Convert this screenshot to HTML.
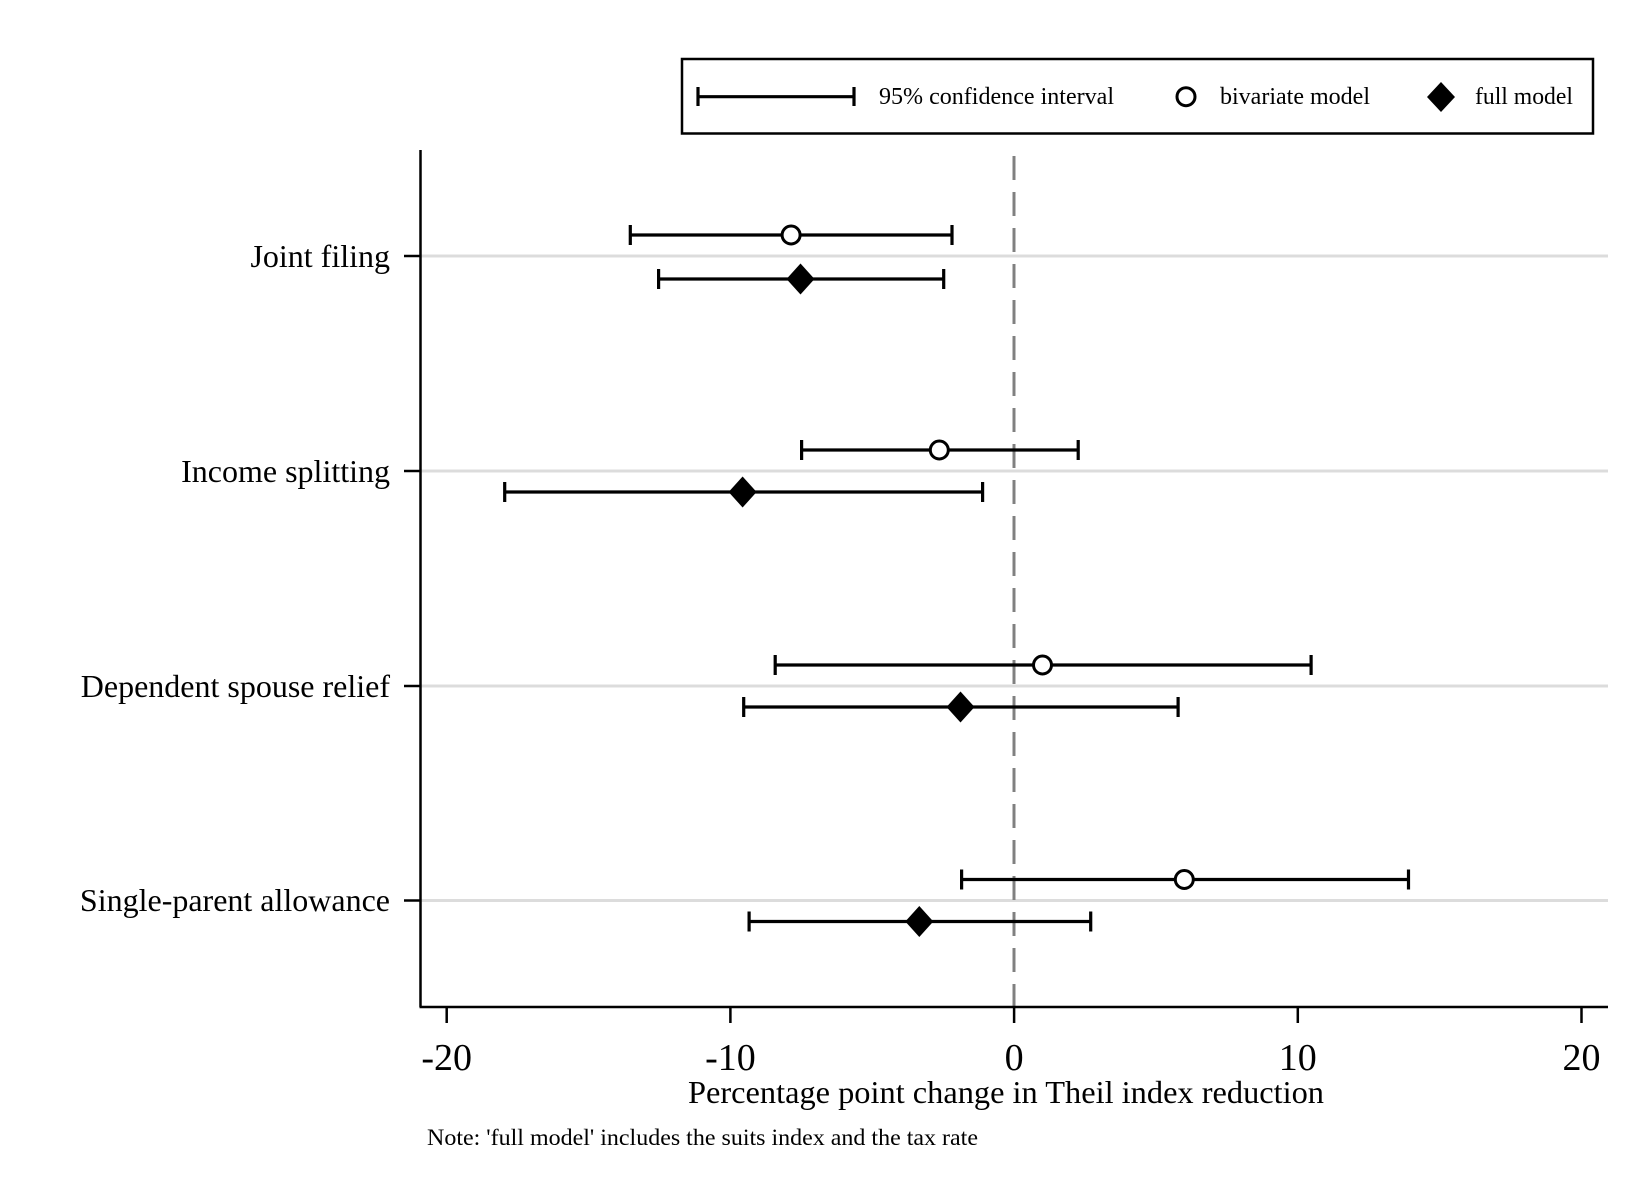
<!DOCTYPE html>
<html><head><meta charset="utf-8"><style>
html,body{margin:0;padding:0;background:#fff;}
svg{display:block;}
text{font-family:"Liberation Serif",serif;fill:#000;}
</style></head><body>
<svg width="1649" height="1199" viewBox="0 0 1649 1199" xmlns="http://www.w3.org/2000/svg">
<rect width="1649" height="1199" fill="#fff"/>
<!-- legend -->
<rect x="682" y="59" width="911" height="74.5" fill="#fff" stroke="#000" stroke-width="2.5"/>
<g stroke="#000" stroke-width="3.2" fill="none">
<line x1="698" y1="96.7" x2="854" y2="96.7"/>
<line x1="698" y1="87" x2="698" y2="106"/>
<line x1="854" y1="87" x2="854" y2="106"/>
</g>
<text x="879" y="104" font-size="24" textLength="235" lengthAdjust="spacingAndGlyphs">95% confidence interval</text>
<circle cx="1186" cy="96.7" r="9" fill="#fff" stroke="#000" stroke-width="3"/>
<text x="1220" y="104" font-size="24" textLength="150" lengthAdjust="spacingAndGlyphs">bivariate model</text>
<polygon points="1441,82 1455,97 1441,112 1427,97" fill="#000"/>
<text x="1475" y="104" font-size="24" textLength="98" lengthAdjust="spacingAndGlyphs">full model</text>

<!-- gridlines -->
<g stroke="#dcdcdc" stroke-width="3">
<line x1="421" y1="256" x2="1608" y2="256"/>
<line x1="421" y1="471" x2="1608" y2="471"/>
<line x1="421" y1="686" x2="1608" y2="686"/>
<line x1="421" y1="900.5" x2="1608" y2="900.5"/>
</g>
<line x1="1014" y1="156" x2="1014" y2="1006" stroke="#808080" stroke-width="3" stroke-dasharray="24 12"/>
<g stroke="#000" stroke-width="2.5" fill="none">
<line x1="420.5" y1="150" x2="420.5" y2="1007"/>
<line x1="419.5" y1="1007" x2="1608" y2="1007"/>
<line x1="404" y1="256" x2="420" y2="256"/>
<line x1="404" y1="471" x2="420" y2="471"/>
<line x1="404" y1="686" x2="420" y2="686"/>
<line x1="404" y1="900.5" x2="420" y2="900.5"/>
<line x1="446.7" y1="1007" x2="446.7" y2="1023"/>
<line x1="730.4" y1="1007" x2="730.4" y2="1023"/>
<line x1="1014.1" y1="1007" x2="1014.1" y2="1023"/>
<line x1="1297.8" y1="1007" x2="1297.8" y2="1023"/>
<line x1="1581.5" y1="1007" x2="1581.5" y2="1023"/>
</g>
<g font-size="32" text-anchor="end">
<text x="390" y="267">Joint filing</text>
<text x="390" y="482">Income splitting</text>
<text x="390" y="697">Dependent spouse relief</text>
<text x="390" y="911">Single-parent allowance</text>
</g>
<g font-size="38" text-anchor="middle">
<text x="446.7" y="1070">-20</text>
<text x="730.4" y="1070">-10</text>
<text x="1014.1" y="1070">0</text>
<text x="1297.8" y="1070">10</text>
<text x="1581.5" y="1070">20</text>
</g>
<text x="1006" y="1103" font-size="32" text-anchor="middle" textLength="636" lengthAdjust="spacingAndGlyphs">Percentage point change in Theil index reduction</text>
<text x="427" y="1145" font-size="23" textLength="551" lengthAdjust="spacingAndGlyphs">Note: 'full model' includes the suits index and the tax rate</text>

<g stroke="#000" stroke-width="3.2" fill="none">
<path d="M630.3 235H952M630.3 225V245M952 225V245"/>
<path d="M658.6 279H943.7M658.6 269V289M943.7 269V289"/>
<path d="M801.6 450H1078.2M801.6 440V460M1078.2 440V460"/>
<path d="M504.7 492H982.6M504.7 482V502M982.6 482V502"/>
<path d="M775.2 665H1311.1M775.2 655V675M1311.1 655V675"/>
<path d="M743.7 707H1178.1M743.7 697V717M1178.1 697V717"/>
<path d="M961.6 879.5H1408.5M961.6 869.5V889.5M1408.5 869.5V889.5"/>
<path d="M749.1 921.5H1090.7M749.1 911.5V931.5M1090.7 911.5V931.5"/>
</g>
<g fill="#fff" stroke="#000" stroke-width="3">
<circle cx="791.1" cy="235" r="9"/>
<circle cx="939.3" cy="450" r="9"/>
<circle cx="1042.5" cy="665" r="9"/>
<circle cx="1184.3" cy="879.5" r="9"/>
</g>
<g fill="#000">
<polygon points="800.5,263.5 814.5,279 800.5,294.5 786.5,279"/>
<polygon points="742.6,476.5 756.6,492 742.6,507.5 728.6,492"/>
<polygon points="960.5,691.5 974.5,707 960.5,722.5 946.5,707"/>
<polygon points="919.3,906 933.3,921.5 919.3,937 905.3,921.5"/>
</g>
</svg>
</body></html>
